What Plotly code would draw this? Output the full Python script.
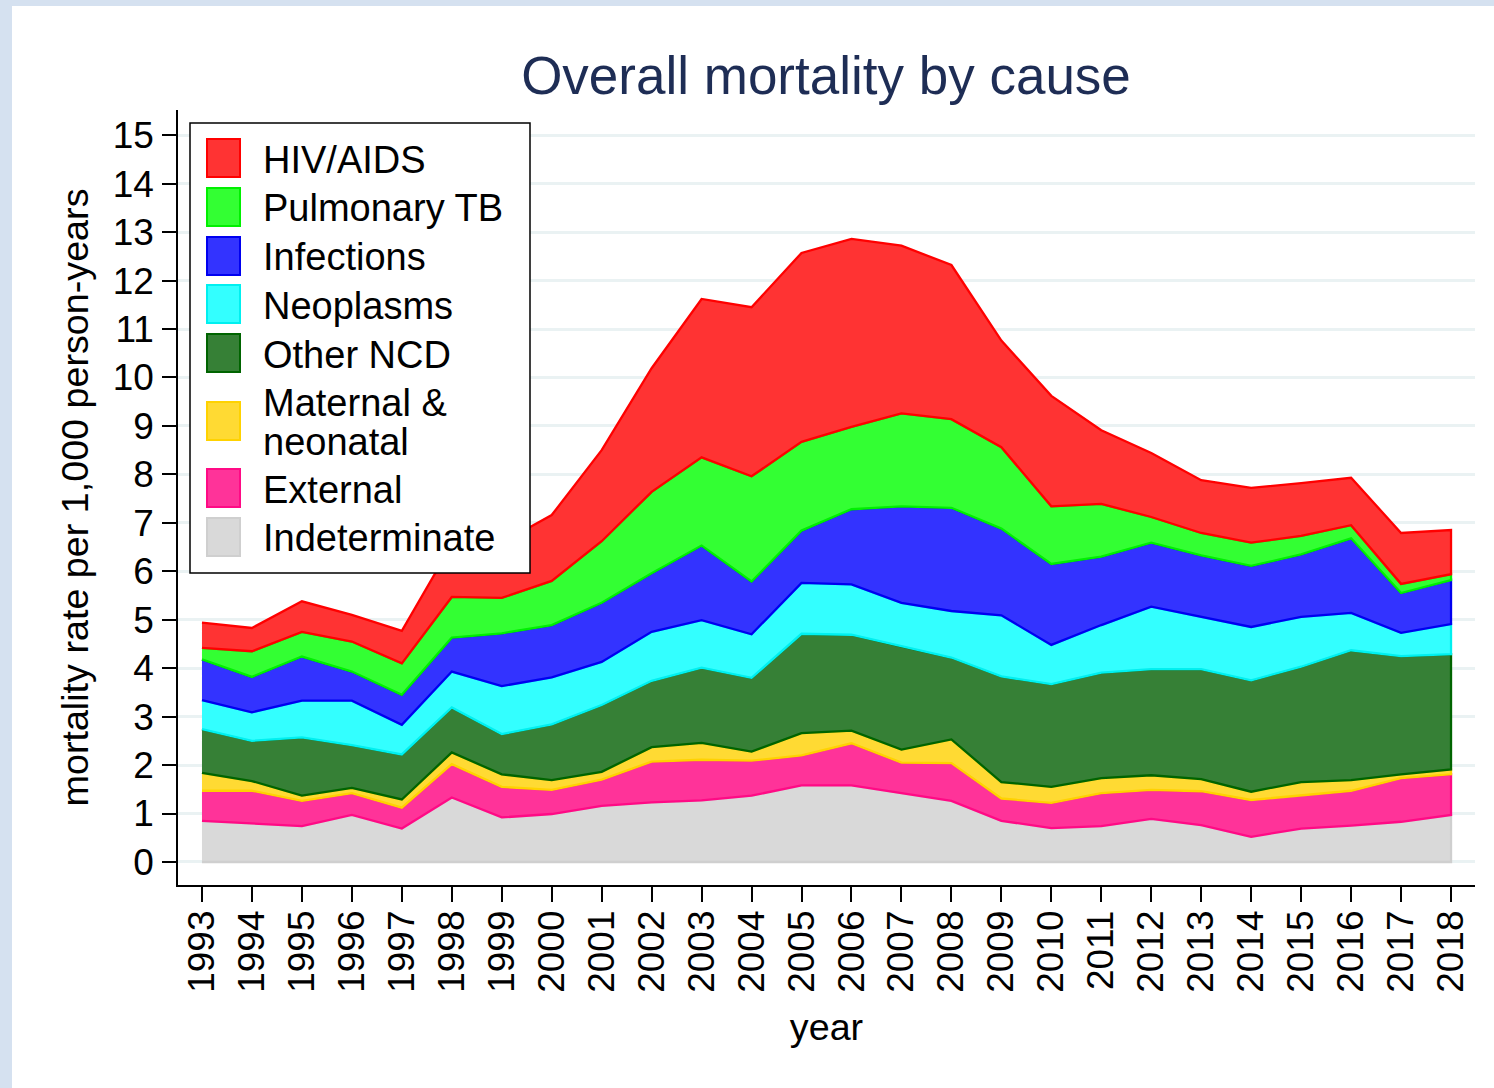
import plotly.graph_objects as go

years = list(range(1993, 2019))

# mortality rate per 1,000 person-years, by cause (stacked bottom -> top)
indeterminate = [0.85, 0.80, 0.74, 0.97, 0.69, 1.33, 0.92, 0.99, 1.16, 1.23, 1.27, 1.37, 1.58,
                 1.58, 1.42, 1.26, 0.85, 0.70, 0.74, 0.89, 0.76, 0.52, 0.69, 0.75, 0.83, 0.97]
external = [0.62, 0.67, 0.52, 0.45, 0.43, 0.69, 0.63, 0.50, 0.54, 0.84, 0.84, 0.72, 0.62,
            0.87, 0.63, 0.78, 0.46, 0.52, 0.68, 0.60, 0.70, 0.76, 0.69, 0.72, 0.90, 0.84]
maternal = [0.37, 0.20, 0.11, 0.11, 0.17, 0.24, 0.26, 0.20, 0.16, 0.30, 0.35, 0.19, 0.46,
            0.26, 0.27, 0.49, 0.34, 0.33, 0.31, 0.30, 0.25, 0.17, 0.27, 0.22, 0.08, 0.10]
other_ncd = [0.90, 0.83, 1.20, 0.88, 0.93, 0.93, 0.83, 1.15, 1.38, 1.37, 1.55, 1.52, 2.05,
             1.98, 2.13, 1.69, 2.18, 2.12, 2.18, 2.19, 2.27, 2.30, 2.38, 2.68, 2.44, 2.38]
neoplasms = [0.60, 0.59, 0.76, 0.92, 0.61, 0.74, 0.99, 0.97, 0.89, 1.01, 0.98, 0.90, 1.05,
             1.04, 0.90, 0.96, 1.26, 0.81, 0.98, 1.29, 1.08, 1.10, 1.03, 0.77, 0.48, 0.62]
infections = [0.84, 0.73, 0.91, 0.60, 0.62, 0.70, 1.09, 1.08, 1.22, 1.21, 1.54, 1.09, 1.08,
              1.55, 1.99, 2.13, 1.79, 1.67, 1.41, 1.32, 1.27, 1.26, 1.29, 1.54, 0.82, 0.91]
pulmonary_tb = [0.24, 0.53, 0.51, 0.62, 0.65, 0.84, 0.73, 0.91, 1.27, 1.68, 1.82, 2.17, 1.83,
                1.70, 1.92, 1.83, 1.68, 1.19, 1.09, 0.53, 0.46, 0.48, 0.38, 0.27, 0.19, 0.12]
hiv_aids = [0.52, 0.48, 0.63, 0.55, 0.67, 1.08, 1.14, 1.36, 1.88, 2.55, 3.27, 3.49, 3.90,
            3.88, 3.46, 3.18, 2.20, 2.28, 1.52, 1.32, 1.09, 1.13, 1.09, 0.98, 1.05, 0.91]

series_names = ["Indeterminate", "External", "Maternal &\nneonatal", "Other NCD",
                "Neoplasms", "Infections", "Pulmonary TB", "HIV/AIDS"]
series_values = [indeterminate, external, maternal, other_ncd, neoplasms, infections,
                 pulmonary_tb, hiv_aids]
fill_colors = ["#D9D9D9", "#FF3399", "#FFDA33", "#368036", "#33FFFF", "#3333FF", "#33FF33", "#FF3333"]
line_colors = ["#CFCFCF", "#FF0A85", "#FFD200", "#006400", "#00F0F0", "#0000F0", "#00F000", "#FF0000"]

y_ticks = list(range(0, 16))

W, H = 1494, 1088
L, R, T, B = 178, 1475, 110, 885  # plot area in pixels


def px2x(px):
    return (px - L) / (R - L)


def py2y(py):
    return (B - py) / (B - T)


fig = go.Figure()

bottom = [0.0] * len(years)
for name, vals, fc, lc in zip(series_names, series_values, fill_colors, line_colors):
    top = [b + v for b, v in zip(bottom, vals)]
    fig.add_trace(go.Scatter(
        x=years + years[::-1],
        y=top + bottom[::-1],
        mode="lines",
        fill="toself",
        fillcolor=fc,
        line=dict(color=lc, width=2.3),
        name=name.replace("\n", " "),
        showlegend=False,
        hoverinfo="skip",
    ))
    bottom = top

font_family = "Liberation Sans, Arial, Helvetica, sans-serif"

shapes = []
annotations = []

# outer light-blue frame (top and left bands)
shapes.append(dict(type="rect", xref="paper", yref="paper",
                   x0=px2x(12), x1=px2x(W + 5), y0=py2y(H + 5), y1=py2y(6),
                   fillcolor="white", line=dict(width=0), layer="below"))

# legend box
shapes.append(dict(type="rect", xref="paper", yref="paper",
                   x0=px2x(190), x1=px2x(530), y0=py2y(573), y1=py2y(123),
                   fillcolor="white", line=dict(color="black", width=1.5), layer="above"))

legend_order = list(range(len(series_names)))[::-1]  # HIV first
sym_centers = [158, 207, 256, 304, 353, 421, 488, 537]
txt_centers = [[160], [208], [257], [306], [355], [403, 442], [490], [538]]
for row, idx in enumerate(legend_order):
    cy = sym_centers[row]
    shapes.append(dict(type="rect", xref="paper", yref="paper",
                       x0=px2x(207), x1=px2x(240), y0=py2y(cy + 19), y1=py2y(cy - 19),
                       fillcolor=fill_colors[idx], line=dict(color=line_colors[idx], width=2),
                       layer="above"))
    for line_text, ty in zip(series_names[idx].split("\n"), txt_centers[row]):
        annotations.append(dict(xref="paper", yref="paper", x=px2x(261), y=py2y(ty),
                                text=line_text, showarrow=False, xanchor="left",
                                yanchor="middle", align="left",
                                font=dict(family=font_family, size=38, color="black")))

fig.update_layout(
    width=W, height=H,
    paper_bgcolor="#D5E1F0",
    plot_bgcolor="white",
    margin=dict(l=L, r=W - R, t=T, b=H - B, autoexpand=False),
    title=dict(text="Overall mortality by cause", x=826 / W,
               xanchor="center", xref="container", y=1 - 75 / H, yref="container",
               yanchor="middle", font=dict(family=font_family, size=53, color="#1E2D55")),
    font=dict(family=font_family, size=37, color="black"),
    shapes=shapes,
    annotations=annotations,
    xaxis=dict(
        range=[1992.52, 2018.48],
        tickmode="array", tickvals=years, ticktext=[str(y) for y in years],
        tickangle=-90,
        ticks="outside", ticklen=15, tickwidth=1.5, tickcolor="black",
        showline=True, linecolor="black", linewidth=1.5,
        showgrid=False, zeroline=False,
        tickfont=dict(family=font_family, size=37, color="black"),
        ticklabelstandoff=-6,
        title=dict(text="year", standoff=22,
                   font=dict(family=font_family, size=37.7, color="black")),
    ),
    yaxis=dict(
        range=[-0.475, 15.52],
        tickmode="array", tickvals=y_ticks, ticktext=[str(v) for v in y_ticks],
        ticks="outside", ticklen=14, tickwidth=1.5, tickcolor="black",
        showline=True, linecolor="black", linewidth=1.5,
        showgrid=True, gridcolor="#EAF2F3", gridwidth=2.5,
        zeroline=False,
        tickfont=dict(family=font_family, size=37, color="black"),
        ticklabelstandoff=1,
        title=dict(text="mortality rate per 1,000 person-years", standoff=12,
                   font=dict(family=font_family, size=37.7, color="black")),
    ),
)

fig.write_html("out.html", config={"displayModeBar": False},
               post_script="document.body.style.margin='0px';")
